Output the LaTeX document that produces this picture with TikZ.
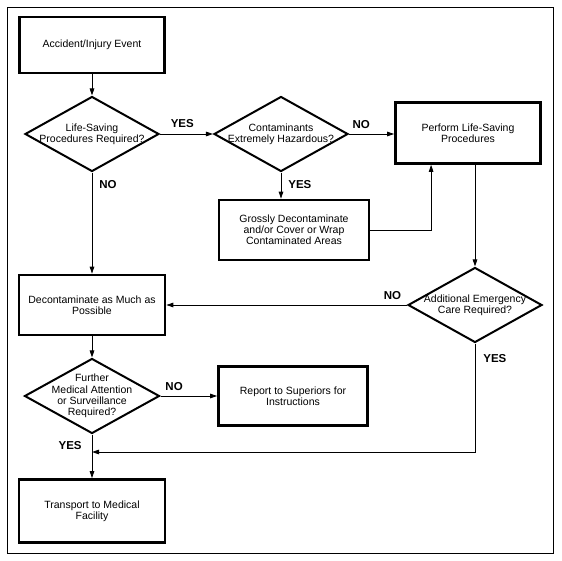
\documentclass[tikz,border=0pt]{standalone}
\usepackage{fontspec}
\setmainfont{Liberation Sans}
\usetikzlibrary{arrows.meta,calc,shapes.geometric}

\begin{document}
\begin{tikzpicture}[x=1pt, y=-1pt,
		stepbox/.style={draw, line width=2.6pt, align=center, inner sep=0pt, font=\fontsize{10.5}{11.2}\selectfont},
		decision/.style={draw, diamond, line width=2pt, inner sep=0pt, minimum width=134pt, minimum height=75pt},
		every label/.style={align=center, inner sep=0pt, font=\fontsize{10.5}{11.2}\selectfont},
		flow/.style={line width=0.8pt, -{Triangle[length=7pt, width=4.5pt]}},
		answer/.style={font=\fontsize{11.5}{12}\selectfont\bfseries, inner sep=0pt}]
		%%%%% START %%%%%
		
		\useasboundingbox (0, 0) rectangle (562, 561);
		\draw[line width=0.8pt] (7, 7) rectangle (553, 553);
		
		\node[stepbox, minimum width=145pt, minimum height=56pt] (event) at (92, 45) {Accident/Injury Event};
		\node[decision, label={center:{Life-Saving\\Procedures Required?}}] (d1) at (92, 134) {};
		\node[decision, label={center:{Contaminants\\Extremely Hazardous?}}] (d2) at (281, 134) {};
		\node[stepbox, minimum width=145pt, minimum height=61pt] (perform) at (468, 133) {Perform Life-Saving\\Procedures};
		\node[stepbox, minimum width=150pt, minimum height=60pt] (gross) at (294, 230) {Grossly Decontaminate\\and/or Cover or Wrap\\Contaminated Areas};
		
		\node[decision, label={center:{Additional Emergency\\Care Required?}}] (d3) at (475, 305) {};
		\node[stepbox, minimum width=146pt, minimum height=60pt] (decon) at (92, 305) {Decontaminate as Much as\\Possible};
		\node[decision, minimum width=135pt, label={center:{Further\\Medical Attention\\or Surveillance\\Required?}}] (d4) at (92, 396) {};
		\node[stepbox, minimum width=149pt, minimum height=59pt] (report) at (293, 396) {Report to Superiors for\\Instructions};
		\node[stepbox, minimum width=146pt, minimum height=63pt] (transport) at (92, 511) {Transport to Medical\\Facility};
		\coordinate (join) at (92, 452);
		
		\draw[flow] (event) -- (d1);
		\draw[flow] (d1) -- node[answer, pos=0.42, above=6pt] {YES} (d2);
		\draw[flow] (d2) -- node[answer, pos=0.27, above=5pt] {NO} (d2.east -| perform.west);
		\draw[flow] (d2) -- node[answer, pos=0.45, right=7pt] {YES} (d2 |- gross.north);
		\draw[flow] (gross.east) -| ($(perform.south west)!0.25!(perform.south east)$);
		
		\draw[flow] (d3 |- perform.south) -- (d3);
		\draw[flow] (d3) -- node[answer, pos=0.06, above=5pt] {NO} (decon);
		\draw[flow] (d1) -- node[answer, pos=0.12, right=7pt] {NO} (decon);
		\draw[flow] (decon) -- (d4);
		\draw[flow] (d4) -- node[answer, pos=0.24, above=5pt] {NO} (report);
		\draw[flow] (d3) |- node[answer, pos=0.067, right=8pt] {YES} (join);
		\draw[flow] (d4) -- node[answer, pos=0.26, left=10pt] {YES} (transport);
		
		%%%%% END %%%%%
	\end{tikzpicture}
\end{document}
